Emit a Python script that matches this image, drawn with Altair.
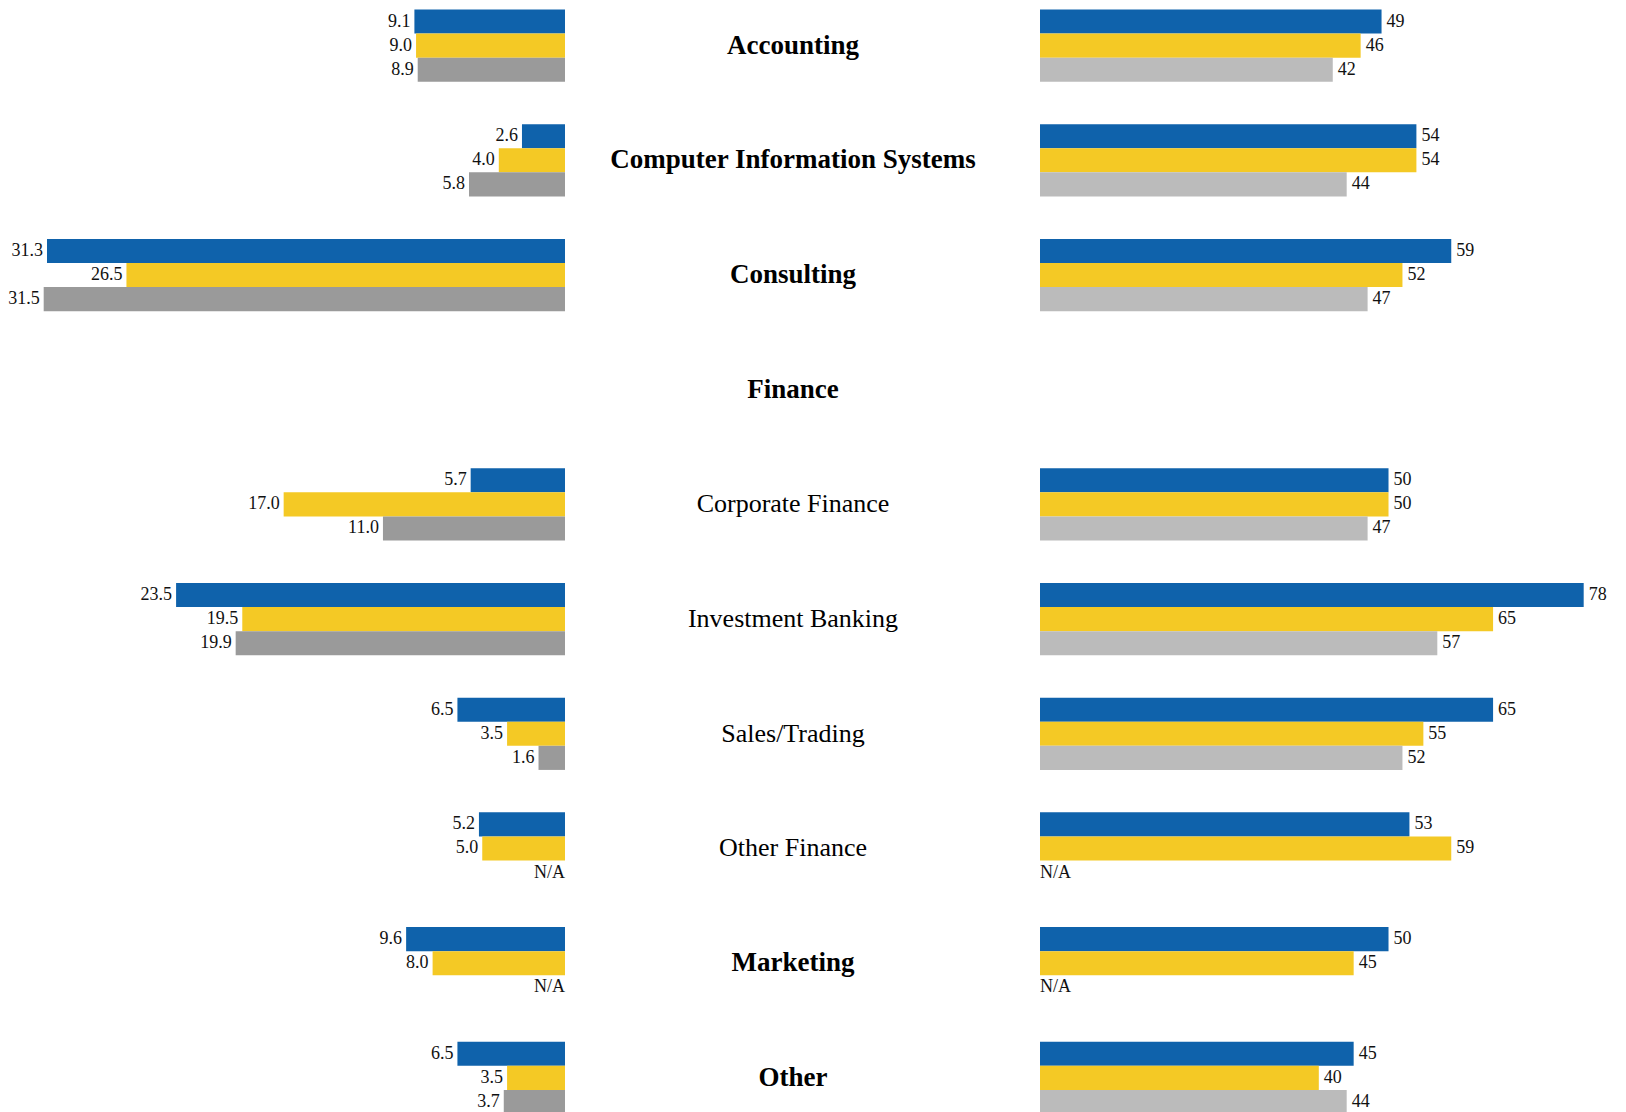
import altair as alt
import pandas as pd

# ---- data ----
categories = [
    "Accounting", "Computer Information Systems", "Consulting", "Finance",
    "Corporate Finance", "Investment Banking", "Sales/Trading", "Other Finance",
    "Marketing", "Other",
]
bold_categories = ["Accounting", "Computer Information Systems", "Consulting",
                   "Finance", "Marketing", "Other"]
series = ["Series 1", "Series 2", "Series 3"]

# left panel (None = N/A); Finance has no bars
bar_categories = ["Accounting", "Computer Information Systems", "Consulting",
                  "Corporate Finance", "Investment Banking", "Sales/Trading",
                  "Other Finance", "Marketing", "Other"]
left_s1 = [9.1, 2.6, 31.3, 5.7, 23.5, 6.5, 5.2, 9.6, 6.5]
left_s2 = [9.0, 4.0, 26.5, 17.0, 19.5, 3.5, 5.0, 8.0, 3.5]
left_s3 = [8.9, 5.8, 31.5, 11.0, 19.9, 1.6, None, None, 3.7]

right_s1 = [49, 54, 59, 50, 78, 65, 53, 50, 45]
right_s2 = [46, 54, 52, 50, 65, 55, 59, 45, 40]
right_s3 = [42, 44, 47, 47, 57, 52, None, None, 44]

# ---- table ----
rows = []
for i, c in enumerate(bar_categories):
    for s, lv, rv in zip(series,
                         [left_s1[i], left_s2[i], left_s3[i]],
                         [right_s1[i], right_s2[i], right_s3[i]]):
        rows.append({
            "cat": c, "series": s,
            "left": lv, "right": rv,
            "left_na": lv is None, "right_na": rv is None,
            "left_label": "N/A" if lv is None else f"{lv:.1f}",
            "right_label": "N/A" if rv is None else f"{int(rv)}",
        })
df = pd.DataFrame(rows)
df["left0"] = df["left"].fillna(0)
df["right0"] = df["right"].fillna(0)

cat_df = pd.DataFrame({"cat": categories,
                       "bold": [c in bold_categories for c in categories]})

BLUE = "#0F62AB"
YELLOW = "#F4C925"
GRAY_L = "#9A9A9A"
GRAY_R = "#BBBBBB"
FONT = "Liberation Serif"

yscale = alt.Scale(domain=categories, range=[9.5, 1114],
                   paddingInner=0.37, paddingOuter=0)
ychan = alt.Y("cat:N", scale=yscale, axis=None)
yoff = alt.YOffset("series:N", scale=alt.Scale(domain=series))

left_scale = alt.Scale(domain=[0, 34.14], range=[565, 0])
right_scale = alt.Scale(domain=[0, 84.07], range=[1040, 1626])

base = alt.Chart(df)

left_bars = base.mark_bar().encode(
    x=alt.X("left:Q", scale=left_scale, axis=None),
    y=ychan, yOffset=yoff,
    color=alt.Color("series:N", scale=alt.Scale(domain=series, range=[BLUE, YELLOW, GRAY_L]),
                    legend=None),
).transform_filter("datum.left != null")

left_text = base.mark_text(align="right", baseline="middle", dx=-4,
                           font=FONT, fontSize=18, color="#111111").encode(
    x=alt.X("left0:Q", scale=left_scale, axis=None),
    y=ychan, yOffset=yoff, text="left_label:N",
).transform_filter("datum.left != null")

left_na = base.mark_text(align="right", baseline="middle", dx=0,
                         font=FONT, fontSize=18, color="#111111").encode(
    x=alt.X("left0:Q", scale=left_scale, axis=None),
    y=ychan, yOffset=yoff, text="left_label:N",
).transform_filter("datum.left == null")

right_bars = base.mark_bar().encode(
    x=alt.X("right:Q", scale=right_scale, axis=None),
    y=ychan, yOffset=yoff,
    color=alt.Color("series:N", scale=alt.Scale(domain=series, range=[BLUE, YELLOW, GRAY_R]),
                    legend=None),
).transform_filter("datum.right != null")

right_text = base.mark_text(align="left", baseline="middle", dx=5,
                            font=FONT, fontSize=18, color="#111111").encode(
    x=alt.X("right0:Q", scale=right_scale, axis=None),
    y=ychan, yOffset=yoff, text="right_label:N",
).transform_filter("datum.right != null")

right_na = base.mark_text(align="left", baseline="middle", dx=0,
                          font=FONT, fontSize=18, color="#111111").encode(
    x=alt.X("right0:Q", scale=right_scale, axis=None),
    y=ychan, yOffset=yoff, text="right_label:N",
).transform_filter("datum.right == null")

cat_bold = alt.Chart(cat_df).mark_text(
    align="center", baseline="middle", font=FONT, fontSize=27,
    fontWeight="bold", color="#000000",
).encode(x=alt.value(793), y=ychan, text="cat:N").transform_filter("datum.bold")

cat_reg = alt.Chart(cat_df).mark_text(
    align="center", baseline="middle", font=FONT, fontSize=26,
    fontWeight="normal", color="#000000",
).encode(x=alt.value(793), y=ychan, text="cat:N").transform_filter("!datum.bold")

chart = alt.layer(
    left_bars, left_text, left_na, right_bars, right_text, right_na, cat_bold, cat_reg
).resolve_scale(
    x="independent", color="independent"
).properties(
    width=1626, height=1112, padding=0
).configure_view(stroke=None)

chart.save("out.html", embed_options={"renderer": "svg", "actions": False})
